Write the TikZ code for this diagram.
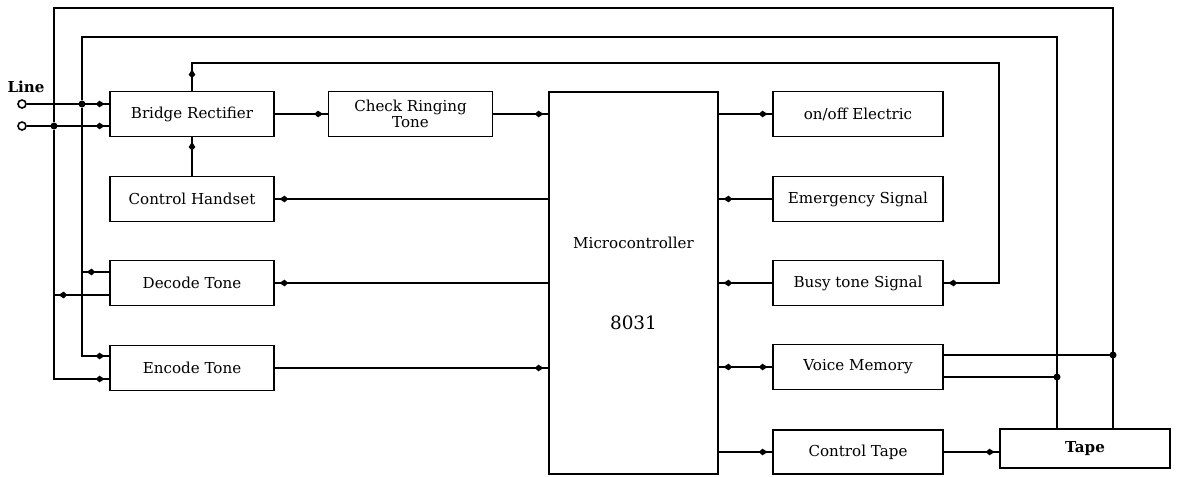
\documentclass[tikz,border=0pt]{standalone}
\usepackage{fontspec}
\setmainfont{DejaVu Serif}
\usetikzlibrary{arrows.meta,decorations.markings}

\begin{document}
\begin{tikzpicture}[
  x=0.02cm, y=-0.02cm,
  font=\fontsize{8.6}{9.2}\selectfont,
  line width=1.1pt,
  >={Kite[length=5pt,width=3.8pt,inset=2pt]},
  blk/.style={draw, line width=1.1pt, minimum width=3.28cm, minimum height=0.9cm,
              align=center, inner sep=1pt},
  rblk/.style={blk, minimum width=3.4cm},
  term/.style={draw, circle, inner sep=0pt, minimum size=0.16cm, line width=0.9pt},
  dot/.style={circle, fill, inner sep=0pt, minimum size=4pt},
  tipend/.style={postaction={decorate}, decoration={markings,
                 mark=at position -2.5pt with {\arrow{>}}}},
  tipboth/.style={postaction={decorate}, decoration={markings,
                 mark=at position 2.5pt with {\arrowreversed{>}},
                 mark=at position -2.5pt with {\arrow{>}}}},
  tipup/.style={postaction={decorate}, decoration={markings,
                 mark=at position 12pt with {\arrow{>}},
                 mark=at position -2.5pt with {\arrow{>}}}}
]
\useasboundingbox (0,0) rectangle (1178,477);

% left column
\node[blk] (br)  at (192,114) {Bridge Rectifier};
\node[blk] (crt) at (410.5,114) {Check Ringing\\Tone};
\node[blk] (hs)  at (192,199) {Control Handset};
\node[blk] (dt)  at (192,283) {Decode Tone};
\node[blk] (et)  at (192,368) {Encode Tone};

% controller
\node[blk, minimum width=3.38cm, minimum height=7.64cm] (mc) at (633.5,283)
  {Microcontroller\\[1.3cm]\fontsize{10.5}{11}\selectfont 8031};

% right column
\node[rblk] (oe) at (858,114) {on/off Electric};
\node[rblk] (es) at (858,199) {Emergency Signal};
\node[rblk] (bt) at (858,283) {Busy tone Signal};
\node[rblk] (vm) at (858,367) {Voice Memory};
\node[rblk, minimum height=0.88cm] (ct) at (858,452) {Control Tape};
\node[rblk, minimum height=0.78cm] (tp) at (1085,448.5) {\textbf{Tape}};

% line terminals
\node[font=\bfseries\fontsize{8.6}{9.2}\selectfont] (lbl) at (26,87) {Line};
\node[term] (t1) at (22,104) {};
\node[term] (t2) at (22,126) {};
\node[dot] (j1) at (82,104) {};
\node[dot] (j2) at (54,126) {};

\draw[tipend] (t1) -- (t1 -| br.west);
\draw[tipend] (t2) -- (t2 -| br.west);

% main signal flow
\draw[tipend] (br) -- (crt);
\draw[tipend] (crt) -- (crt -| mc.west);
\draw[tipend] (oe -| mc.east) -- (oe);
\draw[tipend] (hs) -- (br);
\draw[tipend] (mc.west |- hs) -- (hs);
\draw[tipend] (es) -- (es -| mc.east);
\draw[tipend] (mc.west |- dt) -- (dt);
\draw[tipend] (bt) -- (bt -| mc.east);
\draw[tipend] (et) -- (et -| mc.west);
\draw[tipboth] (mc.east |- vm) -- (vm);
\draw[tipend] (mc.east |- ct) -- (ct);
\draw[tipend] (ct) -- (ct -| tp.west);

% busy tone loop
\draw[tipup] (br.north) |- (999,63) |- (bt.east);

% outer buses to tape
\draw (j2) |- (1113,8) coordinate (r1) -- (r1 |- tp.north);
\draw (j1) |- (1057,37) coordinate (r2) -- (r2 |- tp.north);
\draw[tipend] (j2) |- ([yshift=-0.22cm]et.west);
\draw[tipend] (j1) |- ([yshift=0.24cm]et.west);

% decode outputs
\draw[tipend] ([yshift=0.22cm]dt.west) coordinate (d1) -- (d1 -| j1);
\draw[tipend] ([yshift=-0.24cm]dt.west) coordinate (d2) -- (d2 -| j2);

% voice memory to tape buses
\draw ([yshift=0.24cm]vm.east) coordinate (v1) -- (v1 -| r1) node[dot] (j3) {};
\draw ([yshift=-0.2cm]vm.east) coordinate (v2) -- (v2 -| r2) node[dot] (j4) {};
\end{tikzpicture}
\end{document}
